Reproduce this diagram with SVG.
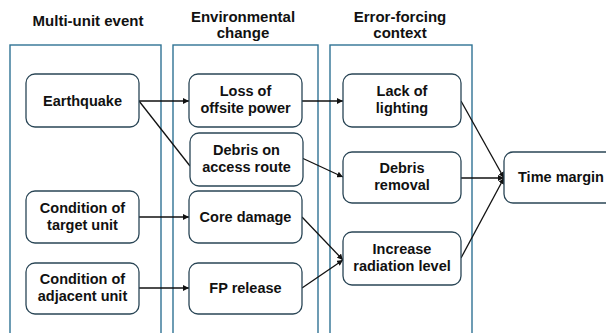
<svg xmlns="http://www.w3.org/2000/svg" width="606" height="333" viewBox="0 0 606 333">
<style>
.frame{fill:none;stroke:#2f7394;stroke-width:1.4}
.node{fill:#fff;stroke:#2a4656;stroke-width:1.3}
.hd{font-family:"Liberation Sans",Arial,sans-serif;font-weight:bold;font-size:15px;fill:#111;text-anchor:middle}
.tx{font-family:"Liberation Sans",Arial,sans-serif;font-weight:bold;font-size:14.5px;fill:#111;text-anchor:middle}
.ln{stroke:#111;stroke-width:1.3;fill:none}
</style>
<defs>
<marker id="ah" viewBox="0 0 10 10" refX="10" refY="5" markerWidth="6" markerHeight="6" markerUnits="userSpaceOnUse" orient="auto">
<path d="M0,0 L10,5 L0,10 z" fill="#111"/>
</marker>
</defs>
<rect width="606" height="333" fill="#fff"/>
<g id="columns">
<rect class="frame" x="10" y="45" width="151" height="300"/>
<rect class="frame" x="173" y="45" width="145" height="300"/>
<rect class="frame" x="330" y="45" width="142" height="300"/>
<text class="hd" x="88" y="26">Multi-unit event</text>
<text class="hd" x="243" y="22">Environmental</text>
<text class="hd" x="243" y="38">change</text>
<text class="hd" x="400" y="22">Error-forcing</text>
<text class="hd" x="400" y="38">context</text>
</g>
<g id="connectors">
<line class="ln" x1="139" y1="101" x2="189" y2="101" marker-end="url(#ah)"/>
<line class="ln" x1="139" y1="101" x2="190" y2="166"/>
<line class="ln" x1="302" y1="101" x2="343" y2="101" marker-end="url(#ah)"/>
<line class="ln" x1="302" y1="158" x2="343" y2="177" marker-end="url(#ah)"/>
<line class="ln" x1="139" y1="217" x2="189" y2="217" marker-end="url(#ah)"/>
<line class="ln" x1="139" y1="288" x2="189" y2="288" marker-end="url(#ah)"/>
<line class="ln" x1="302" y1="217" x2="343" y2="260" marker-end="url(#ah)"/>
<line class="ln" x1="302" y1="288" x2="343" y2="260" marker-end="url(#ah)"/>
<line class="ln" x1="461" y1="101" x2="504" y2="178" marker-end="url(#ah)"/>
<line class="ln" x1="461" y1="178" x2="504" y2="178" marker-end="url(#ah)"/>
<line class="ln" x1="461" y1="258" x2="504" y2="178" marker-end="url(#ah)"/>
</g>
<g id="earthquake">
<rect class="node" x="26" y="74" width="113" height="53" rx="9"/>
<text class="tx" x="82.5" y="106">Earthquake</text>
</g>
<g id="target-unit">
<rect class="node" x="26" y="191" width="113" height="52" rx="9"/>
<text class="tx" x="82.5" y="213">Condition of</text>
<text class="tx" x="82.5" y="230">target unit</text>
</g>
<g id="adjacent-unit">
<rect class="node" x="26" y="263" width="113" height="51" rx="9"/>
<text class="tx" x="82.5" y="284">Condition of</text>
<text class="tx" x="82.5" y="301">adjacent unit</text>
</g>
<g id="offsite-power">
<rect class="node" x="189" y="74" width="113" height="53" rx="9"/>
<text class="tx" x="245.5" y="96">Loss of</text>
<text class="tx" x="245.5" y="113">offsite power</text>
</g>
<g id="debris-route">
<rect class="node" x="190" y="133" width="113" height="53" rx="9"/>
<text class="tx" x="246.5" y="155">Debris on</text>
<text class="tx" x="246.5" y="172">access route</text>
</g>
<g id="core-damage">
<rect class="node" x="189" y="191" width="113" height="52" rx="9"/>
<text class="tx" x="245.5" y="222">Core damage</text>
</g>
<g id="fp-release">
<rect class="node" x="189" y="263" width="113" height="51" rx="9"/>
<text class="tx" x="245.5" y="293">FP release</text>
</g>
<g id="lighting">
<rect class="node" x="343" y="74" width="118" height="53" rx="9"/>
<text class="tx" x="402" y="96">Lack of</text>
<text class="tx" x="402" y="113">lighting</text>
</g>
<g id="debris-removal">
<rect class="node" x="343" y="152" width="118" height="51" rx="9"/>
<text class="tx" x="402" y="173">Debris</text>
<text class="tx" x="402" y="190">removal</text>
</g>
<g id="radiation">
<rect class="node" x="343" y="232" width="118" height="53" rx="9"/>
<text class="tx" x="402" y="254">Increase</text>
<text class="tx" x="402" y="271">radiation level</text>
</g>
<g id="time-margin">
<rect class="node" x="504" y="152" width="115" height="51" rx="9"/>
<text class="tx" x="561" y="182">Time margin</text>
</g>
</svg>
